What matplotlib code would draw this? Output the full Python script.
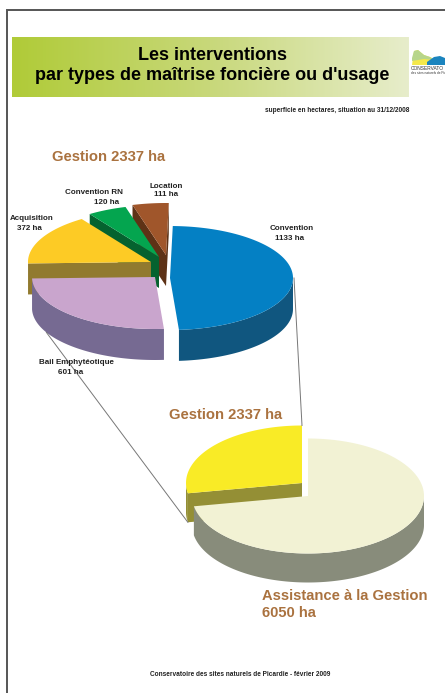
#! /usr/bin/env python
import numpy as np
import matplotlib
matplotlib.use('Agg')
import matplotlib.pyplot as plt
from matplotlib.colors import LinearSegmentedColormap

plt.rcParams['font.family'] = ['Liberation Sans', 'DejaVu Sans']

# data
gestion_labels = ['Convention', 'Bail Emphytéotique', 'Acquisition', 'Convention RN', 'Location']
gestion_values = [1133, 601, 372, 120, 111]
total_labels = ['Assistance à la Gestion', 'Gestion']
total_values = [6050, 2337]

# styles
gestion_top = ['#0480C4', '#C9A5CD', '#FDCB25', '#04A54F', '#A0562B']
gestion_side = ['#10567F', '#766A92', '#917A2F', '#05622F', '#5E3216']
gestion_center = [(170, 278), (155, 277), (151, 262), (159, 257), (166, 255)]
total_top = ['#F2F2D4', '#F9EB26']
total_side = ['#888C7B', '#948F35']
total_center = [(308, 496), (302, 483)]
brown = '#AA723F'

W, H = 445, 693
fig = plt.figure(figsize=(W / 100, H / 100), dpi=100)
ax = fig.add_axes([0, 0, 1, 1])
ax.set_xlim(0, W)
ax.set_ylim(H, 0)
ax.axis('off')


def point(c, rx, ry, th):
    t = np.radians(th)
    return c[0] + rx * np.sin(t), c[1] - ry * np.cos(t)


def slice3d(c, a, b, rx, ry, depth, top, side, z):
    th = np.linspace(a, b, 120)
    x, y = point(c, rx, ry, th)
    # cut faces, only the ones turned to the viewer
    faces = []
    if 180 < a % 360 < 360:
        faces.append(a)
    if 0 < b % 360 < 90:
        faces.append(b)
    for e in faces:
        ex, ey = point(c, rx, ry, e)
        ax.fill([c[0], ex, ex, c[0]], [c[1], ey, ey + depth, c[1] + depth],
                color=side, lw=0, zorder=z)
    # outer wall, front part only
    lo, hi = max(a, 90), min(b, 270)
    if hi > lo:
        tw = np.linspace(lo, hi, 120)
        wx, wy = point(c, rx, ry, tw)
        ax.fill(np.r_[wx, wx[::-1]], np.r_[wy, wy[::-1] + depth], color=side, lw=0, zorder=z)
    ax.fill(np.r_[c[0], x], np.r_[c[1], y], color=top, lw=0, zorder=z + 0.1)


def pie3d(values, centers, tops, sides, start, rx, ry, depth, order, z0):
    fr = np.cumsum([0] + list(values)) / sum(values) * 360 + start
    for n, i in enumerate(order):
        slice3d(centers[i], fr[i], fr[i + 1], rx, ry, depth, tops[i], sides[i], z0 + n)
    return fr


# frame
ax.plot([7, 7, W], [H, 9.5, 9.5], color='#555555', lw=1.4, zorder=1, solid_joinstyle='miter')

# banner
cmap = LinearSegmentedColormap.from_list('banner', ['#B0CB38', '#C8D87A', '#E7EDCB'])
ax.imshow(np.linspace(0, 1, 256).reshape(1, -1), extent=(12, 409, 97, 37), cmap=cmap, aspect='auto', zorder=2)
ax.set_xlim(0, W)
ax.set_ylim(H, 0)
ax.text(212, 55.5, 'Les interventions', ha='center', va='center', fontsize=13, fontweight='bold', zorder=3)
ax.text(212, 76, "par types de maîtrise foncière ou d'usage", ha='center', va='center',
        fontsize=13, fontweight='bold', zorder=3)
ax.text(409, 110, 'superficie en hectares, situation au 31/12/2008', ha='right', va='center',
        fontsize=4.7, fontweight='bold', color='#222222', zorder=3)

# logo
ax.fill([412, 414, 418, 424, 430, 436, 445, 445, 412], [65, 51, 50, 55, 57, 60, 58, 65, 65],
        color='#F4E84A', lw=0, zorder=3)
ax.fill([412, 414, 418, 424, 430, 434, 424, 412], [58, 51, 50, 55, 57, 60, 59, 61],
        color='#B7D58A', lw=0, zorder=3)
ax.fill([427, 434, 440, 445, 445, 427], [62, 57, 56, 58, 65, 65], color='#1B84BE', lw=0, zorder=3)
ax.text(411, 68, 'CONSERVATO', ha='left', va='center', fontsize=3.5, color='#333333', zorder=3)
ax.text(411, 72.5, 'des sites naturels de Pic', ha='left', va='center', fontsize=2.3,
        color='#333333', zorder=3)

# pies
R1, RY1, D1 = 123, 52, 31
R2, RY2, D2 = 116, 57.5, 29
fr1 = pie3d(gestion_values, gestion_center, gestion_top, gestion_side, 1.3, R1, RY1, D1, [4, 3, 2, 1, 0], 5)
fr2 = pie3d(total_values, total_center, total_top, total_side, 0, R2, RY2, D2, [1, 0], 12)

# leader lines between the two pies
x0, y0 = point(gestion_center[0], R1, RY1, 90)
x1, y1 = point(total_center[1], R2, RY2, fr2[2])
ax.plot([x0 + 1, x1], [y0, y1], color='#777777', lw=0.7, zorder=20)
x0, y0 = point(gestion_center[1], R1, RY1, 242)
x1, y1 = point(total_center[1], R2, RY2, fr2[1])
ax.plot([x0, x1], [y0 + D1, y1 + D2], color='#777777', lw=0.7, zorder=20)

# pie labels
label_pos = [(292, 229, 290, 238), (76, 363, 71, 372), (32, 219, 29, 228), (94, 192, 107, 202), (166, 186, 166, 195)]
for name, v, p in zip(gestion_labels, gestion_values, label_pos):
    ax.text(p[0], p[1], name, ha='center', va='center', fontsize=5.8, fontweight='bold', color='#222222', zorder=21)
    ax.text(p[2], p[3], '%d ha' % v, ha='center', va='center', fontsize=5.8, fontweight='bold', color='#222222', zorder=21)

title_kw = dict(ha='left', va='center', fontsize=10.6, fontweight='bold', color=brown, zorder=21)
ax.text(52, 157, '%s %d ha' % (total_labels[1], total_values[1]), **title_kw)
ax.text(169, 415, '%s %d ha' % (total_labels[1], total_values[1]), **title_kw)
ax.text(262, 596, total_labels[0], **title_kw)
ax.text(262, 613, '%d ha' % total_values[0], **title_kw)

ax.text(240, 675, 'Conservatoire des sites naturels de Picardie - février 2009', ha='center', va='center',
        fontsize=4.7, fontweight='bold', color='#222222', zorder=21)

fig.savefig('out.png', dpi=100)
